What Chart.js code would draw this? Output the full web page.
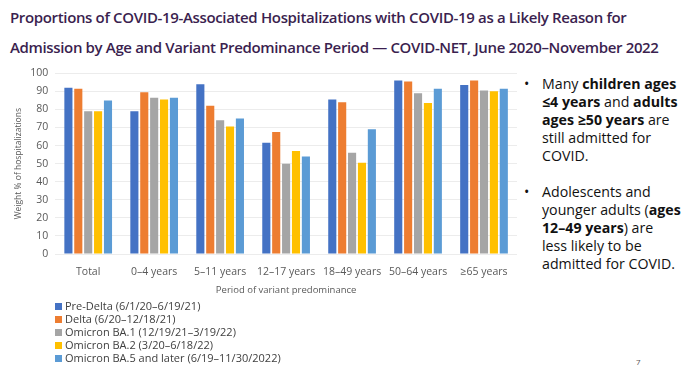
<!DOCTYPE html>
<html><head><meta charset="utf-8">
<script src="https://cdn.jsdelivr.net/npm/chart.js@4/dist/chart.umd.min.js"></script>
<style>
html,body{margin:0;padding:0;background:#fff;width:690px;height:370px;overflow:hidden;font-family:"Open Sans",sans-serif;}
#title{position:absolute;left:10px;top:2px;width:680px;color:#3b1f4f;font-weight:600;font-size:15px;line-height:30px;letter-spacing:-0.35px;}
#wrap{position:absolute;left:-5px;top:60px;width:526px;height:240px;}
#legend{position:absolute;left:55px;top:299px;font-size:11px;color:#404040;line-height:13px;}
#legend div{white-space:nowrap;}
#legend span.sw{display:inline-block;width:7px;height:7px;margin-right:3px;vertical-align:0px;}
#notes{position:absolute;left:524px;top:75px;width:164px;font-size:14.2px;line-height:18px;color:#111;}
#notes .b{display:flex;}
#notes .dot{width:18px;flex:none;}
#notes b{font-weight:700;}
#pg{position:absolute;left:636px;top:356px;font-size:8px;color:#555;}
</style></head><body>
<div id="title">Proportions of COVID-19-Associated Hospitalizations with COVID-19 as a Likely Reason for<br>Admission by Age and Variant Predominance Period — COVID-NET, June 2020–November 2022</div>
<div id="wrap"><canvas id="c"></canvas></div>
<div id="legend"></div>
<div id="notes">
<div class="b"><div class="dot">•</div><div>Many <b>children ages ≤4 years</b> and <b>adults ages ≥50 years</b> are still admitted for COVID.</div></div>
<div style="height:18px"></div>
<div class="b"><div class="dot">•</div><div>Adolescents and younger adults (<b>ages 12–49 years</b>) are<br>less likely to be admitted for COVID.</div></div>
</div>
<div id="pg">7</div>
<script>
const categories = ["Total","0–4 years","5–11 years","12–17 years","18–49 years","50–64 years","≥65 years"];
const seriesNames = ["Pre-Delta (6/1/20–6/19/21)","Delta (6/20–12/18/21)","Omicron BA.1 (12/19/21–3/19/22)","Omicron BA.2 (3/20–6/18/22)","Omicron BA.5 and later (6/19–11/30/2022)"];
const preDelta = [92, 79, 94, 61.5, 85.5, 96, 93.5];
const delta    = [91.5, 89.5, 82, 67.5, 84, 95.5, 96];
const ba1      = [79, 86.5, 74, 50, 56, 89, 90.5];
const ba2      = [79, 85.5, 70.5, 57, 50.5, 83.5, 90];
const ba5      = [85, 86.5, 75, 54, 69, 91.5, 91.5];
const yTicks   = [0,10,20,30,40,50,60,70,80,90,100];
const colors = ["#4472C4","#ED7D31","#A5A5A5","#FFC000","#5B9BD5"];
const values = [preDelta, delta, ba1, ba2, ba5];

const chart = new Chart(document.getElementById('c'), {
  type: 'bar',
  data: {
    labels: categories,
    datasets: values.map((v,i)=>({label: seriesNames[i], data: v, backgroundColor: colors[i], borderWidth:0,
      categoryPercentage: 0.75, barPercentage: 0.82}))
  },
  options: {
    responsive: true, maintainAspectRatio: false, animation: false,
    layout: {padding: {left: 14, right: 4, top: 8, bottom: 0}},
    plugins: {legend: {display: false}, tooltip: {enabled: false}},
    scales: {
      x: {
        grid: {display: false}, border: {display: false},
        ticks: {color: '#595959', font: {family: 'Open Sans', size: 10.5}, padding: 4, maxRotation: 0},
        title: {display: true, text: 'Period of variant predominance', color: '#595959', font: {family: 'Open Sans', size: 9.5}, padding: {top: 2}}
      },
      y: {
        min: 0, max: 100,
        afterBuildTicks: ax => { ax.ticks = yTicks.map(v=>({value:v})); },
        grid: {color: '#ececec', drawTicks: false}, border: {display: false},
        ticks: {color: '#595959', font: {family: 'Open Sans', size: 10.5}, padding: 7},
        title: {display: true, text: 'Weight % of hospitalizations', color: '#595959', font: {family: 'Open Sans', size: 8.5}, padding: {bottom: 0}}
      }
    }
  }
});
const lg = document.getElementById('legend');
chart.data.datasets.forEach(d=>{
  const div=document.createElement('div');
  const sw=document.createElement('span'); sw.className='sw'; sw.style.background=d.backgroundColor;
  div.appendChild(sw); div.appendChild(document.createTextNode(d.label)); lg.appendChild(div);
});
</script>
</body></html>
